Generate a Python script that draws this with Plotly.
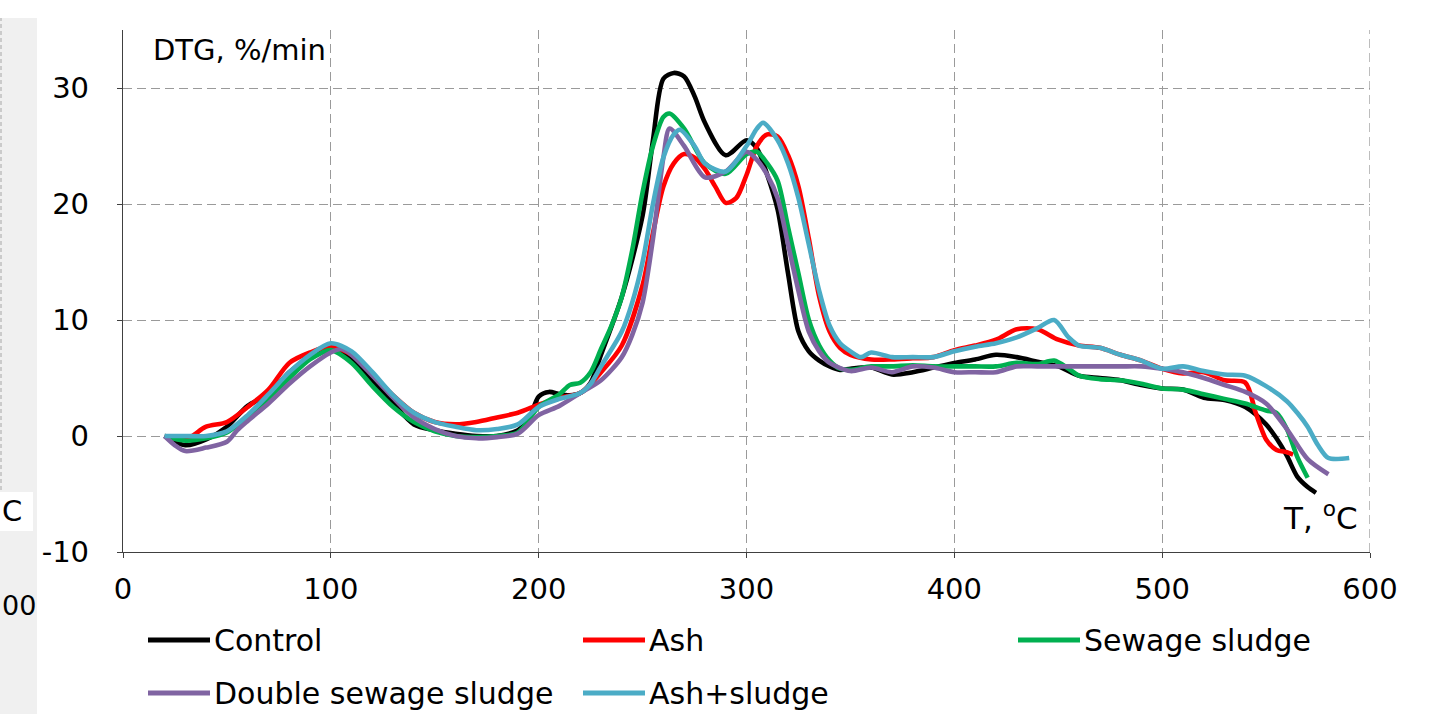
import plotly.graph_objects as go

# ---------------- data ----------------
T_control = [20,30,40,50,60,70,80,90,100,110,120,130,140,150,160,170,180,190,195,200,
             205,210,215,220,225,230,240,250,255,260,265,270,275,280,290,300,305,310,315,320,
             325,330,335,340,345,350,360,370,380,390,400,410,420,430,440,450,460,470,480,490,
             500,510,520,530,540,550,555,560,565,570,574]
V_control = [0,-0.8,-0.3,0.8,2.6,3.6,5.5,6.8,7.6,6.6,4.8,2.8,1.0,0.5,0.2,0,0,0.5,1.3,3.4,
             3.8,3.6,3.5,3.7,4.6,7,12,19,25.5,30.8,31.3,31.0,29.3,27,24.2,25.5,24.8,22.5,19.5,14,
             9,7.3,6.5,6.0,5.7,5.8,5.9,5.3,5.5,5.9,6.3,6.6,7.0,6.8,6.4,6.0,5.2,5.0,4.8,4.4,
             4.1,4.0,3.3,3.1,2.5,1.0,-0.2,-1.7,-3.5,-4.4,-4.9]

T_ash = [20,30,40,50,60,70,80,90,100,110,120,130,140,150,160,170,180,190,200,210,
         220,230,240,250,255,260,265,270,275,280,285,290,295,300,305,310,315,320,325,330,
         335,340,345,350,360,370,380,390,400,410,420,430,440,450,460,470,480,490,500,510,
         520,530,540,545,550,555,560,563]
V_ash = [0,-0.3,0.8,1.2,2.5,4.0,6.3,7.2,7.7,7.0,5.3,3.5,2.0,1.2,1.0,1.2,1.6,2.0,2.7,3.3,
         3.7,5.5,7.8,13.0,17.5,21.5,23.5,24.3,24.0,23.0,21.5,20.1,20.5,22.5,25.0,26.0,25.8,24.2,21.5,17.0,
         12.0,9.0,7.6,7.0,6.6,6.6,6.7,6.8,7.4,7.8,8.3,9.2,9.2,8.3,7.8,7.6,7.0,6.5,5.8,5.4,
         5.5,4.8,4.6,2.0,-0.3,-1.2,-1.4,-1.6]

T_sludge = [20,30,40,50,60,70,80,90,100,110,120,130,140,150,160,170,180,190,200,210,
            215,220,225,230,235,240,245,250,255,260,263,270,280,290,300,305,310,315,320,325,
            330,335,340,345,350,360,370,380,390,400,410,420,430,440,448,455,460,470,480,490,
            500,510,520,530,540,550,555,560,565,570]
V_sludge = [0,-0.4,-0.2,0.3,1.7,3.2,5,6.6,7.4,6.3,4.3,2.5,1.2,0.4,0,-0.1,0,0.3,2.5,3.6,
            4.4,4.6,5.5,7.5,9.5,12,16,21,25,27.5,27.8,26.5,23.5,22.6,24.3,24.5,23.5,22,18,14,
            10,7.8,6.5,5.8,5.7,6,6,6.1,6,6,6,6,6.3,6.2,6.5,5.8,5.2,4.9,4.8,4.5,
            4.1,4.0,3.6,3.2,2.8,2.2,2.0,0.6,-1.8,-3.6]

T_double = [20,25,30,40,50,55,60,70,80,90,100,105,110,120,130,140,150,160,170,180,
            190,200,210,220,230,240,245,250,255,260,263,270,280,290,300,305,310,315,320,325,
            330,335,340,350,360,370,380,390,400,410,420,430,440,450,460,470,480,490,500,510,
            520,530,540,550,560,570,580]
V_double = [0,-0.8,-1.3,-1.0,-0.5,0.5,1.3,2.8,4.5,6,7.2,7.5,7.0,5.2,3.3,1.6,0.6,0,-0.2,-0.1,
            0.2,1.8,2.6,3.7,4.8,6.8,8.7,11.5,17,24,26.5,25,22.3,22.8,24.5,23.8,22.5,20.5,16.5,12.5,
            9,7.3,6.3,5.6,5.9,5.5,6.0,5.9,5.5,5.5,5.5,6.0,6.0,6.0,6.0,6.0,6.0,6.0,5.8,5.5,
            5.0,4.4,3.8,2.8,0.6,-2.0,-3.3]

T_ashsl = [20,30,40,50,60,70,80,90,100,110,120,130,140,150,160,170,180,190,200,210,
           220,225,230,240,245,250,255,260,265,268,275,280,290,300,305,308,315,320,325,330,
           335,340,345,350,355,360,370,380,390,400,410,420,430,440,448,455,460,470,480,490,
           500,510,520,530,540,550,560,565,570,575,580,590]
V_ashsl = [0,0,0,0.4,1.8,3.6,5.5,7,8.0,7.3,5.5,3.5,2,1.2,0.8,0.5,0.6,1.0,2.5,3.2,
           3.7,4.5,6,9,11.5,15,20,24,26,26.4,25,23.5,22.8,25,26.5,27,25.5,23.5,20.5,16.5,
           12.5,9.5,8,7.3,6.8,7.2,6.8,6.8,6.8,7.3,7.7,8.0,8.5,9.3,10.0,8.5,7.8,7.6,7.0,6.5,
           5.8,6.0,5.6,5.3,5.2,4.3,3.0,2.0,0.8,-0.8,-1.9,-1.9]

series_names = ["Control", "Ash", "Sewage sludge", "Double sewage sludge", "Ash+sludge"]
series_colors = ["#000000", "#FF0000", "#00B050", "#8064A2", "#4BACC6"]
series_T = [T_control, T_ash, T_sludge, T_double, T_ashsl]
series_V = [V_control, V_ash, V_sludge, V_double, V_ashsl]

x_ticks = [0, 100, 200, 300, 400, 500, 600]
y_ticks = [-10, 0, 10, 20, 30]

# ---------------- layout helpers ----------------
W, H = 1429, 714
L, R, TOP, B = 123, 1370, 30, 552
def px(x):
    return (x - L) / (R - L)
def py(y):
    return (B - y) / (B - TOP)

FONT = "DejaVu Sans"
FS = 29
GRID = "#9a9a9a"

fig = go.Figure()
for name, col, tx, vy in zip(series_names, series_colors, series_T, series_V):
    fig.add_trace(go.Scatter(x=tx, y=vy, mode="lines", name=name,
                             line=dict(color=col, width=4.6, shape="spline", smoothing=0.8),
                             showlegend=False))

shapes = []
annotations = []

# left grey strip (fragment of neighbouring chart)
shapes.append(dict(type="rect", xref="paper", yref="paper", x0=px(0), x1=px(37), y0=py(714), y1=py(18),
                   fillcolor="#f0f0f0", line=dict(width=0), layer="below"))
shapes.append(dict(type="line", xref="paper", yref="paper", x0=px(1), x1=px(1), y0=py(490), y1=py(18),
                   line=dict(color="#a6a6a6", width=1, dash="4px,3px")))
shapes.append(dict(type="rect", xref="paper", yref="paper", x0=px(0), x1=px(33), y0=py(531), y1=py(492),
                   fillcolor="#ffffff", line=dict(width=0)))
annotations.append(dict(xref="paper", yref="paper", x=px(0), y=py(511), text="C", showarrow=False,
                        xanchor="left", yanchor="middle", font=dict(family=FONT, size=29, color="#000")))
annotations.append(dict(xref="paper", yref="paper", x=px(0), y=py(605), text="00", showarrow=False,
                        xanchor="left", yanchor="middle", font=dict(family=FONT, size=27, color="#000")))

# vertical grid at 600 (right edge)
shapes.append(dict(type="line", xref="x", yref="paper", x0=600, x1=600, y0=0, y1=1,
                   line=dict(color=GRID, width=1.3, dash="9px,5px"), layer="below"))

# axis titles placed inside the plot
annotations.append(dict(xref="paper", yref="paper", x=px(151), y=py(50), text="DTG, %/min",
                        showarrow=False, xanchor="left", yanchor="middle",
                        font=dict(family=FONT, size=FS, color="#000")))
annotations.append(dict(xref="paper", yref="paper", x=px(1281), y=py(516), text="T, <sup>o</sup>C",
                        showarrow=False, xanchor="left", yanchor="middle",
                        font=dict(family=FONT, size=31, color="#000")))

# manual legend
leg_pos = [(148, 640), (583, 640), (1018, 640), (148, 693), (583, 693)]
for (lx, ly), name, col in zip(leg_pos, series_names, series_colors):
    shapes.append(dict(type="line", xref="paper", yref="paper", x0=px(lx), x1=px(lx + 62),
                       y0=py(ly), y1=py(ly), line=dict(color=col, width=5)))
    annotations.append(dict(xref="paper", yref="paper", x=px(lx + 64), y=py(ly), text=name,
                            showarrow=False, xanchor="left", yanchor="middle",
                            font=dict(family=FONT, size=30, color="#000")))

fig.update_layout(
    width=W, height=H,
    margin=dict(l=L, r=W - R, t=TOP, b=H - B, autoexpand=False),
    paper_bgcolor="#ffffff", plot_bgcolor="#ffffff",
    shapes=shapes, annotations=annotations,
    showlegend=False,
)
fig.update_xaxes(range=[0, 600], tickvals=x_ticks, ticktext=[str(v) for v in x_ticks],
                 showgrid=True, gridcolor=GRID, gridwidth=1.3, griddash="9px,5px",
                 zeroline=False, showline=True, linecolor="#404040", linewidth=1.3,
                 ticks="outside", ticklen=5, tickcolor="#404040",
                 tickfont=dict(family=FONT, size=FS, color="#000"), ticklabelstandoff=6)
fig.update_yaxes(range=[-10, 35], tickvals=y_ticks, ticktext=[str(v) for v in y_ticks],
                 showgrid=True, gridcolor=GRID, gridwidth=1.3, griddash="9px,5px",
                 zeroline=False, showline=True, linecolor="#404040", linewidth=1.3,
                 ticks="outside", ticklen=5, tickcolor="#404040",
                 tickfont=dict(family=FONT, size=FS, color="#000"), ticklabelstandoff=22)

fig.write_html("out.html")
